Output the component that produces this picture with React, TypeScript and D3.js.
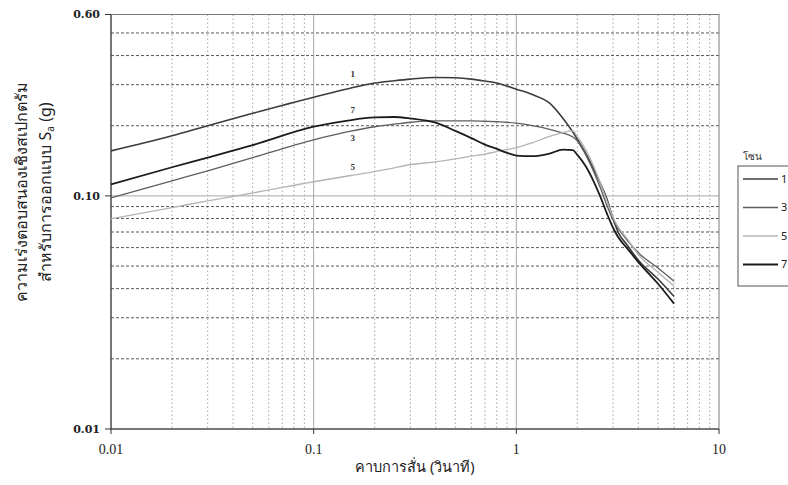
import React from 'react';
import * as d3 from 'd3';

// Periods (s) shared by every zone
const periods = [0.01, 0.02, 0.03, 0.05, 0.1, 0.15, 0.2, 0.25, 0.3, 0.4, 0.5, 0.6, 0.7, 0.8, 0.9, 1.0, 1.2, 1.46, 1.7, 1.9, 2.0, 2.2, 2.4, 2.6, 2.8, 3.0, 3.2, 3.5, 4, 5, 6];

// Spectral acceleration Sa (g) per zone
const zone1 = [0.156, 0.181, 0.2, 0.226, 0.265, 0.289, 0.305, 0.312, 0.317, 0.322, 0.321, 0.317, 0.311, 0.305, 0.296, 0.287, 0.272, 0.25, 0.215, 0.188, 0.175, 0.152, 0.131, 0.113, 0.097, 0.08, 0.069, 0.062, 0.053, 0.044, 0.037];
const zone3 = [0.098, 0.116, 0.128, 0.146, 0.174, 0.189, 0.198, 0.203, 0.207, 0.21, 0.21, 0.21, 0.209, 0.208, 0.207, 0.205, 0.2, 0.193, 0.186, 0.179, 0.172, 0.15, 0.128, 0.108, 0.091, 0.079, 0.072, 0.065, 0.057, 0.049, 0.043];
const zone5 = [0.0797, 0.0891, 0.0952, 0.1029, 0.115, 0.122, 0.127, 0.132, 0.136, 0.14, 0.144, 0.148, 0.151, 0.155, 0.158, 0.161, 0.169, 0.18, 0.187, 0.19, 0.18, 0.158, 0.135, 0.113, 0.095, 0.081, 0.073, 0.066, 0.056, 0.047, 0.041];
const zone7 = [0.112, 0.1327, 0.146, 0.165, 0.198, 0.211, 0.217, 0.218, 0.215, 0.206, 0.19, 0.177, 0.166, 0.159, 0.153, 0.149, 0.148, 0.152, 0.158, 0.157, 0.15, 0.134, 0.116, 0.099, 0.084, 0.073, 0.066, 0.06, 0.052, 0.042, 0.0345];

const zoneNames = ['1', '3', '5', '7'];
const zoneValues = [zone1, zone3, zone5, zone7];
const zoneColors = ['#3c3c3c', '#5e5e5e', '#b4b4b4', '#1c1c1c'];
const zoneWidths = [1.6, 1.3, 1.3, 1.8];

// In-plot curve labels: text, period and Sa where each label sits
const curveLabelText = ['1', '7', '3', '5'];
const curveLabelT = [0.156, 0.156, 0.156, 0.156];
const curveLabelSa = [0.333, 0.2336, 0.177, 0.133];

const xTicks = [0.01, 0.1, 1, 10];
const xTickLabels = ['0.01', '0.1', '1', '10'];
const yTicks = [0.01, 0.1, 0.6];
const yTickLabels = ['0.01', '0.10', '0.60'];
const xMinor = [0.02, 0.03, 0.04, 0.05, 0.06, 0.07, 0.08, 0.09, 0.2, 0.3, 0.4, 0.5, 0.6, 0.7, 0.8, 0.9, 2, 3, 4, 5, 6, 7, 8, 9];
const yMinor = [0.02, 0.03, 0.04, 0.05, 0.06, 0.07, 0.08, 0.09, 0.2, 0.3, 0.4, 0.5];

const W = 788;
const H = 485;
const margin = { top: 14.5, right: 69, bottom: 56, left: 111 };

const thaiFont = '"Noto Sans", "DejaVu Sans", sans-serif';
const serifFont = '"Liberation Serif", "DejaVu Serif", serif';

export default function App() {
    const x = d3.scaleLog().domain([0.01, 10]).range([margin.left, W - margin.right]);
    const y = d3.scaleLog().domain([0.01, 0.6]).range([H - margin.bottom, margin.top]);

    const line = d3.line<number>()
        .x((_, i) => x(periods[i]))
        .y(d => y(d))
        .curve(d3.curveMonotoneX);

    const x0 = x(0.01), x1 = x(10);
    const y0 = y(0.01), y1 = y(0.6);

    return (
        <div>
            <style>{`body{margin:0;background:#fff}`}</style>
            <svg width={W} height={H} viewBox={`0 0 ${W} ${H}`} style={{ display: 'block' }}>
                <rect width={W} height={H} fill="#ffffff" />

                {/* vertical minor grid */}
                {xMinor.map(t => (
                    <line key={'vx' + t} x1={x(t)} x2={x(t)} y1={y1} y2={y0}
                        stroke="#8e8e8e" strokeWidth={0.8} strokeDasharray="1.5,2.5" />
                ))}
                {/* horizontal minor grid */}
                {yMinor.map(v => (
                    <line key={'hy' + v} x1={x0} x2={x1} y1={y(v)} y2={y(v)}
                        stroke="#444" strokeWidth={0.9} strokeDasharray="3,2" />
                ))}
                {/* major grid */}
                {[0.1, 1].map(t => (
                    <line key={'mx' + t} x1={x(t)} x2={x(t)} y1={y1} y2={y0} stroke="#a8a8a8" strokeWidth={1} />
                ))}
                <line x1={x0} x2={x1} y1={y(0.1)} y2={y(0.1)} stroke="#a8a8a8" strokeWidth={1} />

                {/* plot frame */}
                <rect x={x0} y={y1} width={x1 - x0} height={y0 - y1} fill="none" stroke="#7a7a7a" strokeWidth={1} />
                <line x1={x0} x2={x0} y1={y1} y2={y0} stroke="#333" strokeWidth={1} />
                <line x1={x0} x2={x1} y1={y0} y2={y0} stroke="#333" strokeWidth={1.2} />

                {/* ticks */}
                {yTicks.map(v => (
                    <line key={'yt' + v} x1={x0 - 6} x2={x0} y1={y(v)} y2={y(v)} stroke="#333" />
                ))}
                {xTicks.map(t => (
                    <line key={'xt' + t} x1={x(t)} x2={x(t)} y1={y0} y2={y0 + 5} stroke="#333" />
                ))}
                {yTicks.map((v, i) => (
                    <text key={'yl' + v} x={x0 - 11} y={y(v)} dy="0.35em" textAnchor="end"
                        fontFamily='"DejaVu Serif", serif' fontWeight="bold" fontSize={11} fill="#222">{yTickLabels[i]}</text>
                ))}
                {xTicks.map((t, i) => (
                    <text key={'xl' + t} x={x(t)} y={y0 + 25} textAnchor="middle"
                        fontFamily={serifFont} fontSize={14} fill="#222">{xTickLabels[i]}</text>
                ))}

                {/* curves */}
                {zoneValues.map((vals, i) => (
                    <path key={'z' + i} d={line(vals) || ''} fill="none"
                        stroke={zoneColors[i]} strokeWidth={zoneWidths[i]} />
                ))}
                {curveLabelText.map((n, i) => (
                    <text key={'cl' + n} x={x(curveLabelT[i])} y={y(curveLabelSa[i])} dy="0.35em" textAnchor="middle"
                        fontFamily={serifFont} fontWeight="bold" fontSize={9} fill="#333">{n}</text>
                ))}

                {/* axis titles */}
                <text x={(x0 + x1) / 2} y={472} textAnchor="middle" fontFamily={thaiFont} fontSize={14.5} fill="#222">
                    คาบการสั่น (วินาที)
                </text>
                <g transform={`translate(27, 192) rotate(-90)`}>
                    <text x={0} y={0} textAnchor="middle" fontFamily={thaiFont} fontSize={16} fill="#222">
                        ความเร่งตอบสนองเชิงสเปกตรัม
                    </text>
                    <text x={0} y={24} textAnchor="middle" fontFamily={thaiFont} fontSize={16} fill="#222">
                        สำหรับการออกแบบ S<tspan fontSize={10} dy={3}>a</tspan><tspan dy={-3}> (g)</tspan>
                    </text>
                </g>

                {/* legend */}
                <text x={752} y={160} textAnchor="middle" fontFamily={thaiFont} fontSize={10} fill="#333">โซน</text>
                <rect x={738} y={166} width={70} height={120} fill="#fff" stroke="#555" strokeWidth={1} />
                {zoneNames.map((n, i) => (
                    <g key={'lg' + n} transform={`translate(0, ${179 + i * 28.5})`}>
                        <line x1={743} x2={778} y1={0} y2={0} stroke={zoneColors[i]} strokeWidth={zoneWidths[i]} />
                        <text x={781} y={0} dy="0.35em" fontFamily={thaiFont} fontSize={11} fill="#222">{n}</text>
                    </g>
                ))}
            </svg>
        </div>
    );
}
